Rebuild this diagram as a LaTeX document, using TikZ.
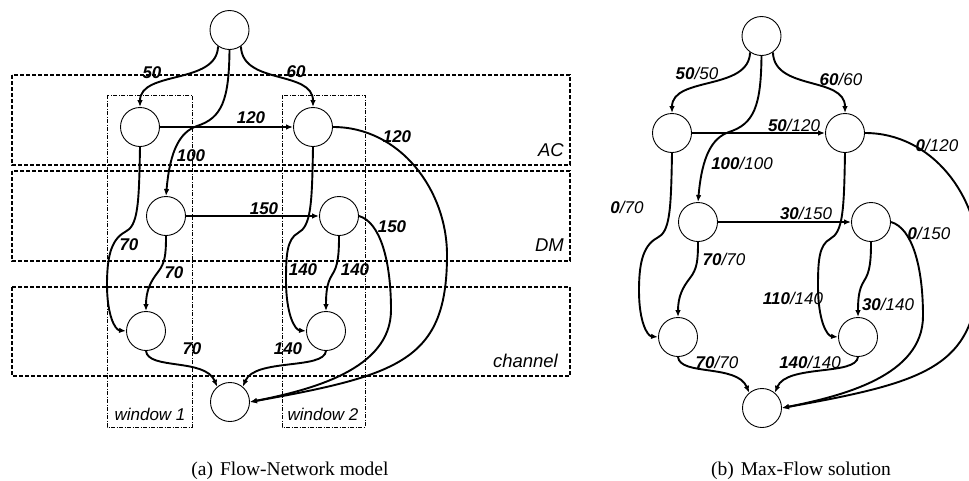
\documentclass[tikz,border=0pt]{standalone}
\usepackage{fontspec}
\setmainfont{Liberation Serif}
\newfontfamily\arialfont{Liberation Sans}
\usetikzlibrary{arrows.meta}

\newcommand\flownet[1]{%
  \node[vtx] (#1S)  at (229.5,30) {};
  \node[vtx] (#1A1) at (140,127) {};
  \node[vtx] (#1A2) at (313,127) {};
  \node[vtx] (#1D1) at (166,216) {};
  \node[vtx] (#1D2) at (339,216) {};
  \node[vtx] (#1C1) at (146,331) {};
  \node[vtx] (#1C2) at (326,331) {};
  \node[vtx] (#1T)  at (230,402) {};
  \draw[flow] (#1S.235) .. controls (217,85) and (140,70) .. (#1A1.north);
  \draw[flow] (#1S.305) .. controls (242,85) and (313,70) .. (#1A2.north);
  \draw[flow] (#1S.south) .. controls (229,100) and (222,118) .. (197,126)
                         .. controls (180,132) and (170,150) .. (#1D1.north);
  \draw[flow] (#1A1.east) -- (#1A2.west);
  \draw[flow] (#1D1.east) -- (#1D2.west);
  \draw[flow] (#1A2.east) .. controls (400,127) and (447,190) .. (447,255)
                         .. controls (447,360) and (400,375) .. (#1T.east);
  \draw[flow] (#1D2.east) .. controls (380,222) and (391,260) .. (391,310)
                         .. controls (391,370) and (310,390) .. (#1T.east);
  \draw[flow] (#1A1.south) .. controls (139,205) and (138,226) .. (125,232)
                          .. controls (110,240) and (107,260) .. (107,285)
                          .. controls (107,315) and (115,330) .. (#1C1.west);
  \draw[flow] (#1A2.south) .. controls (312,205) and (311,226) .. (298,233)
                          .. controls (287,239) and (286,255) .. (286,280)
                          .. controls (286,315) and (295,330) .. (#1C2.west);
  \draw[flow] (#1D1.south) .. controls (166,255) and (165,263) .. (158,272)
                          .. controls (151,281) and (146,290) .. (#1C1.north);
  \draw[flow] (#1D2.south) .. controls (339,255) and (338,266) .. (332,275)
                          .. controls (327,283) and (326,292) .. (#1C2.north);
  \draw[flow] (#1C1.south) .. controls (148,370) and (205,358) .. (#1T.130);
  \draw[flow] (#1C2.south) .. controls (324,370) and (255,358) .. (#1T.50);
}
\newcommand\fv[2]{{\bfseries #1}/#2}

\begin{document}
\begin{tikzpicture}[x=1pt,y=-1pt,
  vtx/.style={circle,draw,line width=0.9pt,minimum size=39pt,inner sep=0pt,fill=white},
  flow/.style={line width=1.9pt,-{Latex[length=7pt,width=5.5pt]}},
  rowbox/.style={draw,line width=1.3pt,dash pattern=on 4pt off 2pt},
  winbox/.style={draw,line width=1pt,dash pattern=on 4pt off 1.5pt on 1pt off 1.5pt},
  lab/.style={font=\arialfont\fontsize{17}{20}\selectfont\bfseries\itshape,inner sep=0pt},
  labb/.style={font=\arialfont\fontsize{17}{20}\selectfont\itshape,inner sep=0pt},
  rowlab/.style={font=\arialfont\fontsize{18.5}{21}\selectfont\itshape,inner sep=0pt,anchor=east},
  winlab/.style={font=\arialfont\fontsize{17}{19}\selectfont\itshape,inner sep=0pt},
  captext/.style={font=\fontsize{19.5}{22}\selectfont,inner sep=0pt}]
\useasboundingbox (0,0) rectangle (969,480);
\clip (0,0) rectangle (969,480);

% (a) boxes
\draw[rowbox] (12,75) rectangle (570,165);
\draw[rowbox] (12,171) rectangle (570,261);
\draw[rowbox] (12,287) rectangle (570,376);
\draw[winbox] (107,95) rectangle (192,427);
\draw[winbox] (282,95) rectangle (365,427);
\node[rowlab] (lAC) at (564,150) {AC};
\node[rowlab] (lDM) at (564,245) {DM};
\node[rowlab] (lCH) at (558,361) {channel};
\node[winlab] (lW1) at (150,414) {window 1};
\node[winlab] (lW2) at (323,414) {window 2};

% (a) network
\flownet{a}
\node[lab] (la1)  at (152,73)  {50};
\node[lab] (la2)  at (296,72)  {60};
\node[lab] (la3)  at (251,118) {120};
\node[lab] (la4)  at (191,156) {100};
\node[lab] (la5)  at (397,137) {120};
\node[lab] (la6)  at (264,209) {150};
\node[lab] (la7)  at (392,227) {150};
\node[lab] (la8)  at (129,245) {70};
\node[lab] (la9)  at (174,273) {70};
\node[lab] (la10) at (303,270) {140};
\node[lab] (la11) at (355,270) {140};
\node[lab] (la12) at (192,349) {70};
\node[lab] (la13) at (288,349) {140};

% (b) network
\begin{scope}[shift={(532,6)}]
\flownet{b}
\end{scope}
\node[labb] (lb1)  at (697,73)  {\fv{50}{50}};
\node[labb] (lb2)  at (841,79)  {\fv{60}{60}};
\node[labb] (lb3)  at (794,125) {\fv{50}{120}};
\node[labb] (lb4)  at (937,145) {\fv{0}{120}};
\node[labb] (lb5)  at (742,163) {\fv{100}{100}};
\node[labb] (lb6)  at (627,207) {\fv{0}{70}};
\node[labb] (lb7)  at (806,213) {\fv{30}{150}};
\node[labb] (lb8)  at (929,233) {\fv{0}{150}};
\node[labb] (lb9)  at (724,259) {\fv{70}{70}};
\node[labb] (lb10) at (793,298) {\fv{110}{140}};
\node[labb] (lb11) at (888,304) {\fv{30}{140}};
\node[labb] (lb12) at (717,362) {\fv{70}{70}};
\node[labb] (lb13) at (810,362) {\fv{140}{140}};

% captions
\node[captext] (capa) at (290,471) {(a)\hspace{7pt}Flow-Network model};
\node[captext] (capb) at (801,471) {(b)\hspace{7pt}Max-Flow solution};
\end{tikzpicture}
\end{document}
